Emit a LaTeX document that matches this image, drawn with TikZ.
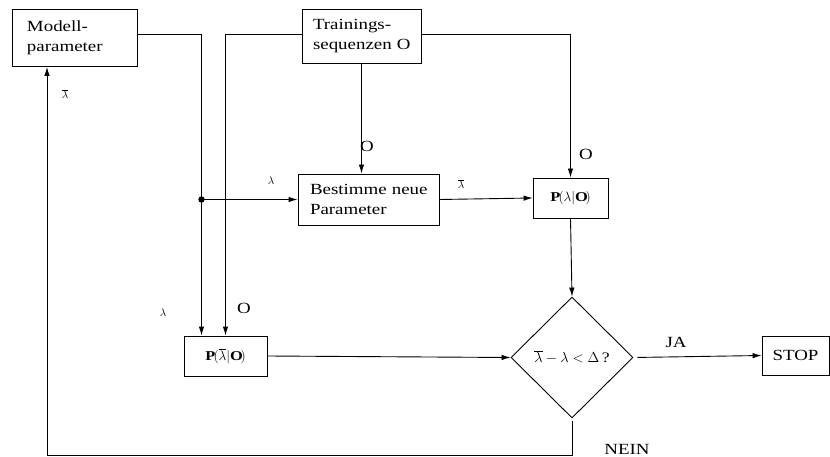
\documentclass[tikz,border=0pt]{standalone}
\usepackage{fix-cm}
\usepackage{fontspec}
\setmainfont{Liberation Serif}[FakeStretch=1.22]
\usetikzlibrary{arrows.meta,shapes.geometric}

\begin{document}
\begin{tikzpicture}[x=1pt,y=-1pt,
		line width=0.9pt,
		font=\fontsize{15.5}{20}\selectfont,
		box/.style={draw, rectangle, inner sep=0pt},
		txtbox/.style={box, align=left},
		mathbox/.style={box, font=\fontsize{13.5}{15}\selectfont},
		test/.style={draw, diamond, inner sep=0pt, minimum width=122pt, minimum height=121pt, font=\fontsize{14.5}{15}\selectfont},
		flow/.style={-{Latex[length=9pt,width=5.5pt]}},
		lbl/.style={inner sep=0pt},
		sym/.style={inner sep=0pt, font=\fontsize{11}{13}\selectfont},
	]
	\useasboundingbox (0,0) rectangle (830,457);

	% boxes
	\node[txtbox, minimum width=125pt, minimum height=57pt, text width=95pt] (model) at (74.5,38) {\mbox{Modell-}\\\mbox{parameter}};
	\node[txtbox, minimum width=119pt, minimum height=54pt, text width=97pt] (train) at (361.5,36) {\mbox{Trainings-}\\\mbox{sequenzen O}};
	\node[txtbox, minimum width=141pt, minimum height=51pt, text width=117pt] (upd) at (368.5,199.5) {\mbox{Bestimme neue}\\\mbox{Parameter}};
	\node[mathbox, minimum width=75pt, minimum height=40pt] (plo) at (570.5,198) {$\mathbf{P}(\lambda|\mathbf{O})$};
	\node[mathbox, minimum width=83pt, minimum height=40pt] (plbo) at (225.5,356) {$\mathbf{P}(\overline{\lambda}|\mathbf{O})$};
	\node[test] (test) at (572,357.5) {$\overline{\lambda}-\lambda<\Delta\,$?};
	\node[box, minimum width=67pt, minimum height=39pt] (stop) at (795.5,355.5) {STOP};

	% connectors
	\coordinate (split) at ([xshift=-24pt]plbo.north |- upd.west);
	\coordinate (loop) at (47,455);
	\draw[flow] ([yshift=4pt]model.east) -| ([xshift=-24pt]plbo.north);
	\draw[flow] (split) -- (upd.west);
	\fill (split) circle (3.2);
	\draw[flow] ([yshift=2pt]train.west) -| (plbo.north);
	\draw[flow] (train.south) -- (train.south |- upd.north);
	\draw[flow] ([yshift=2pt]train.east) -| (plo.north);
	\draw[flow] (upd.east) -- (plo.west);
	\draw[flow] (plo.south) -- (test.north);
	\draw[flow] (plbo.east) -- (test.west);
	\draw[flow, shorten <=4pt] (test.east) -- (stop.west);
	\draw[flow, shorten <=3pt] (test.south) |- (loop) -- (loop |- model.south);

	% labels
	\node[sym] (lb1) at (65,94) {$\overline{\lambda}$};
	\node[sym] (l1) at (271,181) {$\lambda$};
	\node[lbl] (o1) at (367,146) {O};
	\node[sym] (lb2) at (461,184) {$\overline{\lambda}$};
	\node[lbl] (o2) at (586,154) {O};
	\node[sym] (l2) at (163,313) {$\lambda$};
	\node[lbl] (o3) at (244,308) {O};
	\node[lbl] (ja) at (676,342) {JA};
	\node[lbl] (nein) at (627,449) {NEIN};
\end{tikzpicture}
\end{document}
